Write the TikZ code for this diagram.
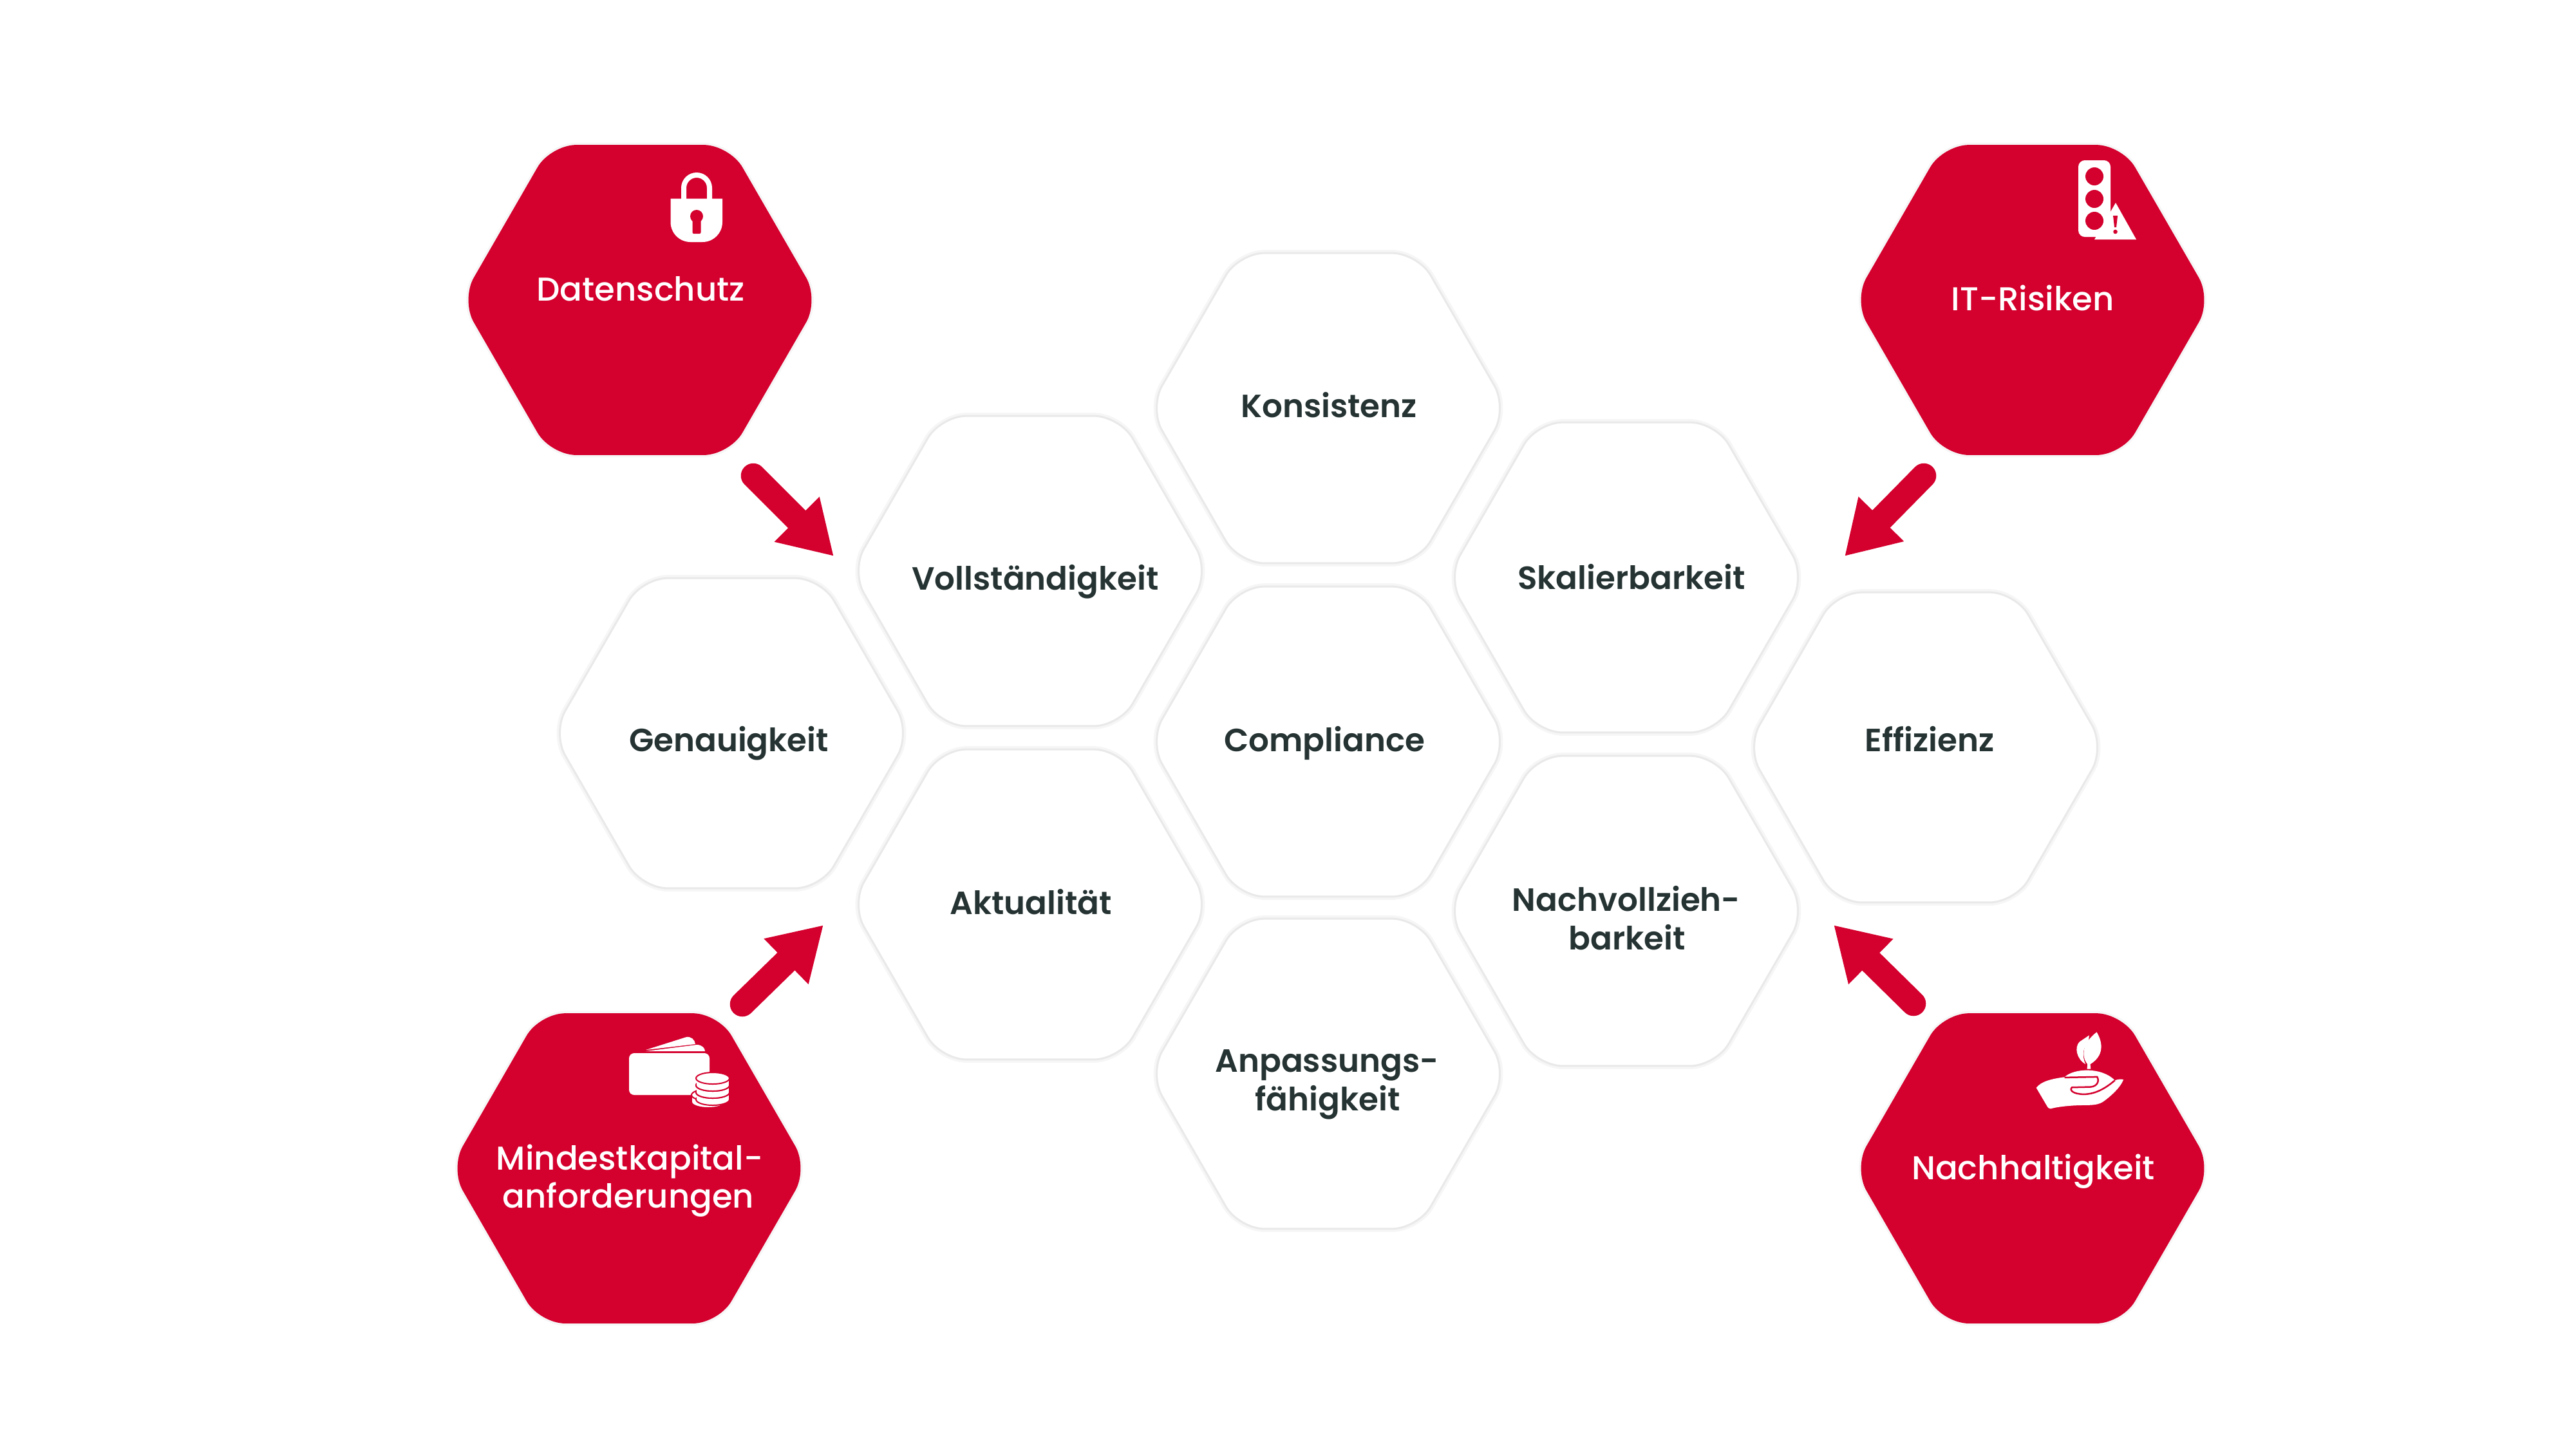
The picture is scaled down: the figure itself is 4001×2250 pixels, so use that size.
\documentclass[tikz,border=0pt]{standalone}
\usepackage{fontspec}
\usetikzlibrary{arrows.meta,shapes.geometric}
\newfontfamily\hexfont{Poppins SemiBold}
\newfontfamily\hexfontw{Poppins Medium}
\definecolor{hexred}{HTML}{D4002D}
\definecolor{hexink}{HTML}{263333}
\definecolor{hexrim}{HTML}{E9E9E9}
\definecolor{hexhalo}{HTML}{F6F6F6}
\tikzset{
  hexnode/.style={regular polygon,regular polygon sides=6,minimum size=5.56cm,
    inner sep=0pt,outer sep=0pt,rounded corners=0.4cm},
  hexlight/.style={hexnode,fill=white,draw=hexrim,line width=0.03cm,
    preaction={draw=hexhalo,line width=0.1cm}},
  hexdark/.style={hexnode,fill=hexred,preaction={draw=hexhalo,line width=0.07cm}},
  hexlabel/.style={font=\hexfont\fontsize{14.2pt}{17.2pt}\selectfont,text=hexink,
    align=center,anchor=base,inner sep=0pt},
  hexlabelw/.style={hexlabel,font=\hexfontw\fontsize{14.6pt}{17.2pt}\selectfont,text=white},
  bigarrow/.style={draw=hexred,line width=0.385cm,line cap=round,
    -{Triangle[length=0.81cm,width=0.93cm,fill=hexred]}},
  icon/.style={fill=white,draw=none}
}
\begin{document}
\begin{tikzpicture}[x=0.01cm,y=-0.01cm]
  \useasboundingbox (0,0) rectangle (4001,2250);

  % white cells
  \node[hexlight] (konsistenz) at (2063,634) {};
  \node[hexlight] (vollst) at (1600,887) {};
  \node[hexlight] (skalier) at (2526,897) {};
  \node[hexlight] (genau) at (1136,1139) {};
  \node[hexlight] (compl) at (2063,1152) {};
  \node[hexlight] (effiz) at (2991,1161) {};
  \node[hexlight] (aktual) at (1600,1405) {};
  \node[hexlight] (nachv) at (2526,1415) {};
  \node[hexlight] (anpass) at (2063,1668) {};

  \node[hexlabel] (konsistenzL) at (2064,648) {Konsistenz};
  \node[hexlabel] (vollstL) at (1608,916) {Vollständigkeit};
  \node[hexlabel] (skalierL) at (2534,915) {Skalierbarkeit};
  \node[hexlabel] (genauL) at (1132,1167) {Genauigkeit};
  \node[hexlabel] (complL) at (2057,1167) {Compliance};
  \node[hexlabel] (effizL) at (2997,1167) {Effizienz};
  \node[hexlabel] (aktualL) at (1601,1420) {Aktualität};
  \node[hexlabel] (nachv1L) at (2526,1415) {Nachvollzieh-};
  \node[hexlabel] (nachv2L) at (2527,1475) {barkeit};
  \node[hexlabel] (anpass1L) at (2061,1665) {Anpassungs-};
  \node[hexlabel] (anpass2L) at (2062,1725) {fähigkeit};

  % red cells
  \node[hexdark] (daten) at (994,466) {};
  \node[hexdark] (itrisk) at (3157,466) {};
  \node[hexdark] (kapital) at (977,1815) {};
  \node[hexdark] (nachh) at (3157,1815) {};

  \node[hexlabelw] (datenL) at (995,467) {Datenschutz};
  \node[hexlabelw] (itriskL) at (3157,482) {IT-Risiken};
  \node[hexlabelw] (kapital1L) at (978,1817) {Mindestkapital-};
  \node[hexlabelw] (kapital2L) at (976,1876) {anforderungen};
  \node[hexlabelw] (nachhL) at (3158,1832) {Nachhaltigkeit};

  % arrows
  \coordinate (a1) at (1170,739);
  \coordinate (b1) at (1295,864);
  \coordinate (a2) at (2988,739);
  \coordinate (b2) at (2865,864);
  \coordinate (a3) at (1153,1560);
  \coordinate (b3) at (1279,1437);
  \coordinate (a4) at (2972,1559);
  \coordinate (b4) at (2848,1437);
  \draw[bigarrow] (a1) -- (b1);
  \draw[bigarrow] (a2) -- (b2);
  \draw[bigarrow] (a3) -- (b3);
  \draw[bigarrow] (a4) -- (b4);

  % lock
  \draw[white,line width=0.08cm] (1062,310) -- (1062,292) arc[start angle=180,end angle=360,radius=20] -- (1102,310);
  \fill[icon] (1041.5,308.5) -- (1122,308.5) -- (1122,345) arc[start angle=0,end angle=90,radius=31]
    -- (1072.5,376) arc[start angle=90,end angle=180,radius=31] -- cycle;
  \fill[hexred] (1082,336) circle[radius=10];
  \fill[hexred,rounded corners=0.02cm] (1075.5,340) rectangle (1088.5,363);

  % traffic light
  \fill[icon,rounded corners=0.1cm] (3228,249) rectangle (3278,368);
  \foreach \cy in {274,309,343}
    \fill[hexred] (3253,\cy) circle[radius=14];
  \fill[icon] (3286,315) -- (3318,372) -- (3253,372) -- cycle;
  \fill[hexred] (3282,335) -- (3289,335) -- (3287,353) -- (3284,353) -- cycle;
  \fill[hexred] (3285.5,360) circle[radius=3.3];

  % wallet
  \fill[icon,rounded corners=0.08cm] (977,1636) rectangle (1102,1701);
  \fill[icon] (1003,1631) -- (1066,1611) .. controls (1074,1610) and (1079,1615) .. (1080,1622) -- cycle;
  \fill[icon] (1003,1633) -- (1082,1623) .. controls (1090,1623) and (1095,1628) .. (1095,1633) -- cycle;
  \foreach \cx/\cy in {1100/1701,1107/1697,1107/1686,1107/1675}{
    \filldraw[fill=white,draw=hexred,line width=0.02cm] (\cx,\cy+11) ellipse[x radius=26,y radius=9];
    \fill[icon] (\cx-25,\cy) rectangle (\cx+25,\cy+11);
    \filldraw[fill=white,draw=hexred,line width=0.02cm] (\cx,\cy) ellipse[x radius=26,y radius=9];
  }

  % hand with seedling
  \begin{scope}[shift={(3150,1590)},x=0.00333cm,y=-0.00333cm]
    \fill[icon] (38,300) .. controls (60,270) and (110,258) .. (170,250)
      .. controls (210,210) and (340,200) .. (405,265) .. controls (420,260) and (435,258) .. (445,262)
      .. controls (430,300) and (385,340) .. (350,365) .. controls (320,385) and (280,380) .. (230,382)
      .. controls (180,384) and (130,390) .. (105,398) .. controls (95,398) and (92,392) .. (88,385) -- cycle;
    \draw[hexred,line width=0.025cm] (170,252) -- (322,249) .. controls (335,270) and (320,295) .. (290,296)
      -- (205,298) .. controls (190,310) and (210,330) .. (260,330) .. controls (320,330) and (370,295) .. (405,265);
    \fill[icon] (320,40) .. controls (350,90) and (355,150) .. (290,190) -- (292,212) -- (275,212) -- (277,190)
      .. controls (245,150) and (255,90) .. (320,40) -- cycle;
    \fill[icon] (285,55) .. controls (282,70) and (285,80) .. (283,90) .. controls (255,110) and (250,150) .. (268,190)
      .. controls (225,165) and (215,110) .. (240,85) -- cycle;
  \end{scope}
\end{tikzpicture}
\end{document}
